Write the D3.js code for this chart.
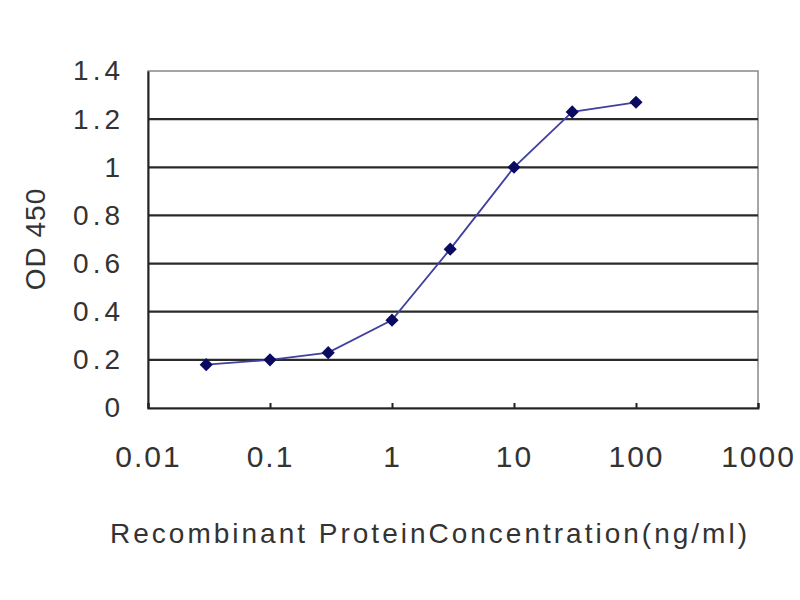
<!DOCTYPE html>
<html>
<head>
<meta charset="utf-8">
<script src="https://cdn.jsdelivr.net/npm/d3@7"></script>
<style>
  body { margin: 0; background: #fff; }
  text { font-family: "Liberation Sans", Arial, sans-serif; fill: #333; }
</style>
</head>
<body>
<div id="graph"></div>
<script>
// --------------------------------------
//  Data
// --------------------------------------
const concentration = [0.03, 0.1, 0.3, 1, 3, 10, 30, 100];
const od450 = [0.18, 0.2, 0.23, 0.365, 0.66, 1.0, 1.23, 1.27];
const xTicks = [0.01, 0.1, 1, 10, 100, 1000];
const yTicks = [0, 0.2, 0.4, 0.6, 0.8, 1, 1.2, 1.4];

// --------------------------------------
//  Margin and canvas
// --------------------------------------
const margin = { top: 71, right: 42, bottom: 192, left: 148 };
const width = 800 - margin.left - margin.right;
const height = 600 - margin.top - margin.bottom;

const root = d3.select("#graph")
  .append("svg")
  .attr("width", 800)
  .attr("height", 600);

const svg = root.append("g")
  .attr("transform", "translate(" + margin.left + "," + margin.top + ")");

// --------------------------------------
//  Scales
// --------------------------------------
const x = d3.scaleLog().domain([0.01, 1000]).range([0, width]);
const y = d3.scaleLinear().domain([0, 1.4]).range([height, 0]);

// frame
svg.append("rect")
  .attr("width", width)
  .attr("height", height)
  .attr("fill", "none")
  .attr("stroke", "#888")
  .attr("stroke-width", 1.5);

// gridlines
svg.append("g")
  .selectAll("line")
  .data(yTicks.filter(d => d > 0 && d < 1.4))
  .join("line")
  .attr("x1", 0)
  .attr("x2", width)
  .attr("y1", d => y(d))
  .attr("y2", d => y(d))
  .attr("stroke", "#2a2a2a")
  .attr("stroke-width", 2.2);

// axes
const yAxis = svg.append("g")
  .call(d3.axisLeft(y).tickValues(yTicks).tickSize(0).tickPadding(24)
    .tickFormat(d => d === 0 || d === 1 ? d3.format("d")(d) : d3.format(".1f")(d)));
yAxis.select(".domain").attr("stroke", "#222").attr("stroke-width", 2);
yAxis.selectAll("text")
  .attr("font-size", 28)
  .attr("letter-spacing", 4)
  .attr("fill", "#333");

const xAxis = svg.append("g")
  .attr("transform", "translate(0," + height + ")")
  .call(d3.axisBottom(x).tickValues(xTicks).tickSize(-5).tickPadding(38)
    .tickFormat(d => String(d)));
xAxis.select(".domain").attr("stroke", "#222").attr("stroke-width", 2);
xAxis.selectAll(".tick line").attr("stroke", "#222").attr("stroke-width", 2);
xAxis.selectAll("text")
  .attr("font-size", 30)
  .attr("letter-spacing", 2)
  .attr("fill", "#333");

// axis titles
root.append("text")
  .attr("x", 430)
  .attr("y", 543)
  .attr("text-anchor", "middle")
  .attr("font-size", 28)
  .attr("letter-spacing", 3)
  .text("Recombinant ProteinConcentration(ng/ml)");

root.append("text")
  .attr("transform", "translate(45,239) rotate(-90)")
  .attr("text-anchor", "middle")
  .attr("font-size", 28)
  .attr("letter-spacing", 1)
  .text("OD 450");

// --------------------------------------
//  Line and markers
// --------------------------------------
const points = concentration.map((c, i) => ({ c: c, v: od450[i] }));

svg.append("path")
  .datum(points)
  .attr("fill", "none")
  .attr("stroke", "#4040a0")
  .attr("stroke-width", 1.8)
  .attr("d", d3.line().x(d => x(d.c)).y(d => y(d.v)));

svg.append("g")
  .selectAll("path")
  .data(points)
  .join("path")
  .attr("transform", d => "translate(" + x(d.c) + "," + y(d.v) + ")")
  .attr("d", d3.symbol(d3.symbolDiamond2, 110))
  .attr("fill", "#0a0a60");
</script>
</body>
</html>
